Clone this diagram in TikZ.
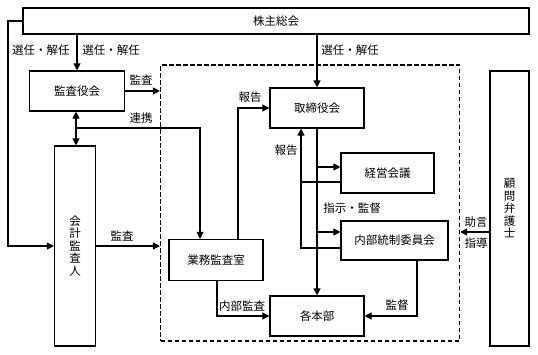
\documentclass[tikz,border=0pt]{standalone}
\usepackage{fontspec}
\setmainfont{Noto Sans CJK JP}
\usetikzlibrary{arrows.meta,calc}
\tikzset{
  box/.style={draw, line width=1.1pt, inner sep=0pt, align=center, font=\fontsize{11.5}{12.5}\selectfont},
  lbl/.style={inner sep=0pt, font=\fontsize{11.5}{13}\selectfont},
  conn/.style={line width=1.1pt},
  arr/.style={conn, -{Triangle[length=7pt,width=7pt]}},
  arrb/.style={conn, {Triangle[length=7pt,width=7pt]}-{Triangle[length=7pt,width=7pt]}},
  dbox/.style={draw, line width=1.1pt, dash pattern=on 4.5pt off 2.5pt, inner sep=0pt}
}
\begin{document}
\begin{tikzpicture}[x=1pt,y=-1pt]
\useasboundingbox (0,0) rectangle (538,354);
% dashed company box
\node[dbox, minimum width=299pt, minimum height=276pt] (db) at (310,203) {};
% boxes
\node[box, minimum width=506pt, minimum height=26pt] (sh) at (276,21) {株主総会};
\node[box, minimum width=95pt, minimum height=40pt] (kansa) at (77,91) {監査役会};
\node[box, minimum width=41pt, minimum height=200pt] (kaikei) at (75,246) {会\\計\\監\\査\\人};
\node[box, minimum width=94pt, minimum height=41pt] (gyomu) at (216,260) {業務監査室};
\node[box, minimum width=94pt, minimum height=40pt] (tori) at (317,108) {取締役会};
\node[box, minimum width=93pt, minimum height=40pt] (keiei) at (387.5,173) {経営会議};
\node[box, minimum width=107pt, minimum height=39pt] (naibu) at (394.5,240.5) {内部統制委員会};
\node[box, minimum width=94pt, minimum height=40pt] (kaku) at (317,316) {各本部};
\node[box, minimum width=39pt, minimum height=275pt] (komon) at (509.5,208.5) {顧\\問\\弁\\護\\士};
% helper coordinates
\coordinate (lc) at (8,246);
\coordinate (ren) at (76,128);
\coordinate (xA) at (200,0);
\coordinate (xB) at (238,0);
\coordinate (xC) at (217,0);
\coordinate (b1) at (317,167);
\coordinate (b2) at (317,232);
\coordinate (r1) at (301,182);
\coordinate (r2) at (301,248);
\coordinate (xE) at (417,0);
% connectors
\draw[arr] (sh.west) -| (lc) -- (kaikei.west);
\draw[arr] (sh.south -| kansa.north) -- (kansa.north);
\draw[arr] (kansa.east) -- (kansa.east -| db.west);
\draw[arrb] (kansa.south -| ren) -- (kaikei.north -| ren);
\draw[arr] (ren) -| (gyomu.north -| xA);
\draw[arr] (kaikei.east) -- (kaikei.east -| db.west);
\draw[arr] (gyomu.north -| xB) |- (tori.west);
\draw[arr] (gyomu.south -| xC) |- (kaku.west);
\draw[arr] (sh.south -| tori.north) -- (tori.north);
\draw[arr] (tori.south) -- (kaku.north);
\draw[arr] (b1) -- (b1 -| keiei.west);
\draw[arr] (b2) -- (b2 -| naibu.west);
\draw[conn] (r1 -| keiei.west) -- (r1);
\draw[arr] (r2 -| naibu.west) -- (r2) -- (tori.south -| r2);
\draw[arr] (naibu.south -| xE) |- (kaku.east);
\draw[arr] (komon.west |- b2) -- (b2 -| db.east);
% labels
\node[lbl] (l1) at (41,50) {選任・解任};
\node[lbl] (l2) at (111,50) {選任・解任};
\node[lbl] (l3) at (350,50) {選任・解任};
\node[lbl] (l4) at (141,80) {監査};
\node[lbl] (l5) at (141,118) {連携};
\node[lbl] (l6) at (122,236) {監査};
\node[lbl] (l7) at (250,97) {報告};
\node[lbl] (l8) at (286,150) {報告};
\node[lbl] (l9) at (352,208) {指示・監督};
\node[lbl] (l10) at (242,306) {内部監査};
\node[lbl] (l11) at (397,305) {監督};
\node[lbl] (l12) at (476,222) {助言};
\node[lbl] (l13) at (476,243) {指導};
\end{tikzpicture}
\end{document}
